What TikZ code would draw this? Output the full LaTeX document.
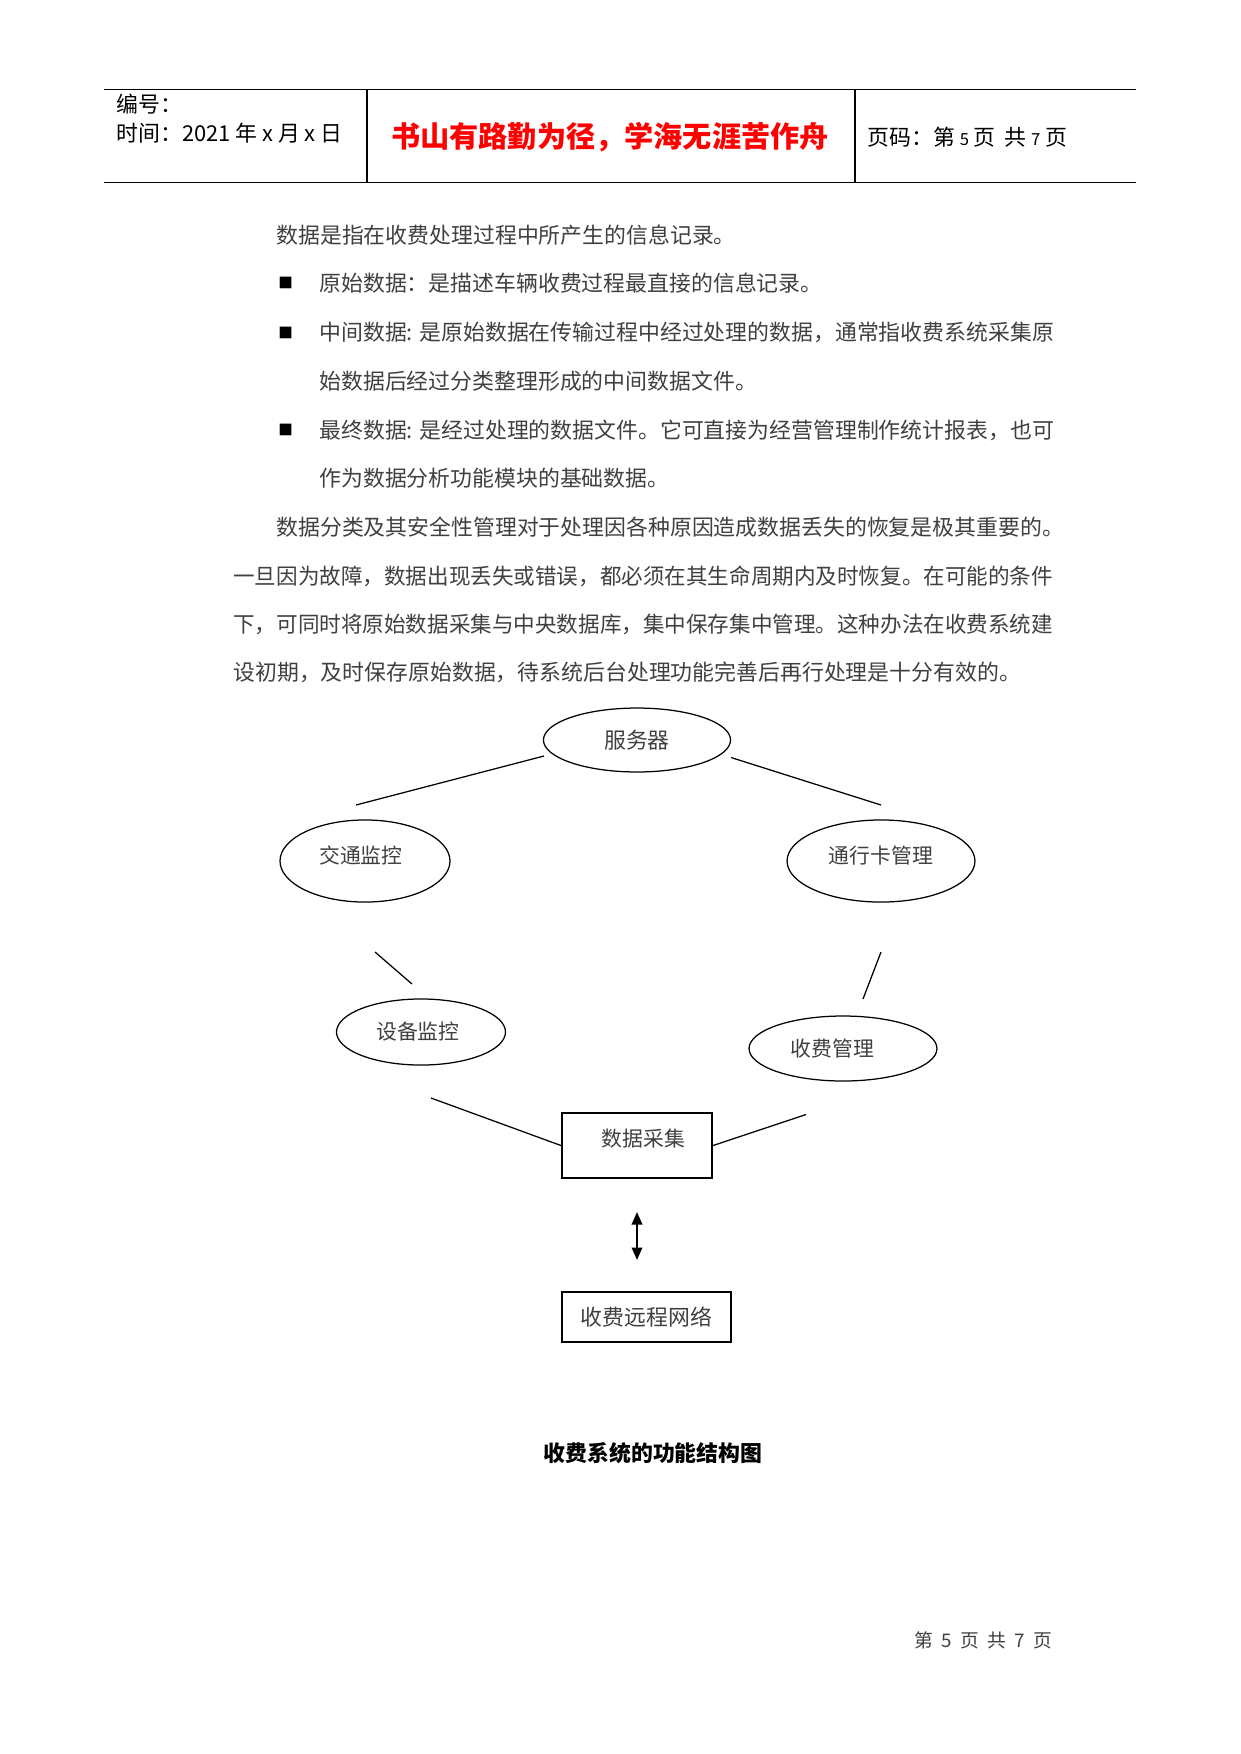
\documentclass[tikz,border=0pt]{standalone}
\usepackage{fontspec}
\setmainfont{Noto Sans CJK SC}
\usetikzlibrary{shapes.geometric,arrows.meta}
\begin{document}
\begin{tikzpicture}[x=0.48pt,y=-0.48pt,
  body/.style={inner sep=0pt,anchor=west,font=\fontsize{10.5}{12}\selectfont,text=black!75},
  head/.style={inner sep=0pt,anchor=west,font=\fontsize{10.5}{12}\selectfont,text=black},
  bul/.style={inner sep=0pt,anchor=west,font=\fontsize{7}{8}\selectfont,text=black},
  oval/.style={ellipse,draw,line width=0.6pt,inner sep=0pt,font=\fontsize{10.5}{12}\selectfont,text=black!75},
  box/.style={rectangle,draw,inner sep=0pt,font=\fontsize{10.5}{12}\selectfont,text=black!75},
  link/.style={line width=0.6pt},
  rule/.style={line width=0.6pt}]
\useasboundingbox[fill=white] (0,0) rectangle (1241,1754);

% header table
\coordinate (h1) at (104,89.5);
\coordinate (h2) at (1136,89.5);
\coordinate (h3) at (104,182.5);
\coordinate (h4) at (1136,182.5);
\coordinate (v1t) at (367,89.5);
\coordinate (v1b) at (367,182.5);
\coordinate (v2t) at (855,89.5);
\coordinate (v2b) at (855,182.5);
\draw[rule] (h1) -- (h2);
\draw[rule] (h3) -- (h4);
\draw[rule] (v1t) -- (v1b);
\draw[rule] (v2t) -- (v2b);
\node[head] (bh) at (116,104) {编号：};
\node[head] (sj) at (116,133) {时间：2021 年 x 月 x 日};
\node[inner sep=0pt,font=\fontsize{14}{16}\selectfont\bfseries,text=red] (motto) at (610,137) {书山有路勤为径，学海无涯苦作舟};
\node[head] (ym) at (867,137) {页码：第 {\fontsize{8}{9}\selectfont 5} 页\, 共 {\fontsize{8}{9}\selectfont 7} 页};

% body text
\node[body] (t1) at (276,235) {数据是指在收费处理过程中所产生的信息记录。};
\node[bul] (b1) at (278,283) {■};
\node[body] (t2) at (319,283) {原始数据：是描述车辆收费过程最直接的信息记录。};
\node[bul] (b2) at (278,332.5) {■};
\node[body] (t3) at (319,332.5) {中间数据: 是原始数据在传输过程中经过处理的数据，通常指收费系统采集原};
\node[body] (t4) at (319,381.5) {始数据后经过分类整理形成的中间数据文件。};
\node[bul] (b3) at (278,430) {■};
\node[body] (t5) at (319,430) {最终数据: 是经过处理的数据文件。它可直接为经营管理制作统计报表，也可};
\node[body] (t6) at (319,478) {作为数据分析功能模块的基础数据。};
\node[body] (t7) at (276,527) {数据分类及其安全性管理对于处理因各种原因造成数据丢失的恢复是极其重要的。};
\node[body] (t8) at (233,576) {\scalebox{0.986}[1]{一旦因为故障，数据出现丢失或错误，都必须在其生命周期内及时恢复。在可能的条件}};
\node[body] (t9) at (233,624) {\scalebox{0.986}[1]{下，可同时将原始数据采集与中央数据库，集中保存集中管理。这种办法在收费系统建}};
\node[body] (t10) at (233,672.5) {设初期，及时保存原始数据，待系统后台处理功能完善后再行处理是十分有效的。};

% diagram
\node[oval,minimum width=89.8pt,minimum height=30.7pt] (server) at (637,740) {服务器};
\node[oval,minimum width=81.6pt,minimum height=39.4pt,label={[shift={(-2pt,2.5pt)},text=black!75]center:交通监控}] (traffic) at (365,861) {};
\node[oval,minimum width=90.2pt,minimum height=39.4pt,label={[shift={(0pt,2.5pt)},text=black!75]center:通行卡管理}] (card) at (881,861) {};
\node[oval,minimum width=81.1pt,minimum height=31.7pt,label={[shift={(-1.5pt,0pt)},text=black!75]center:设备监控}] (equip) at (421,1032) {};
\node[oval,minimum width=90.2pt,minimum height=31.2pt,label={[shift={(-5pt,0pt)},text=black!75]center:收费管理}] (fee) at (843,1048.5) {};
\node[box,line width=1pt,minimum width=72pt,minimum height=31.2pt,label={[shift={(3pt,3.5pt)},text=black!75]center:数据采集}] (collect) at (637,1145.5) {};
\node[box,line width=0.6pt,minimum width=81.1pt,minimum height=24pt] (remote) at (646.5,1317) {收费远程网络};

\coordinate (s1a) at (544,756);
\coordinate (s1b) at (356,805);
\coordinate (s2a) at (731,757.5);
\coordinate (s2b) at (881,805);
\coordinate (s3a) at (375,952);
\coordinate (s3b) at (412,984);
\coordinate (s4a) at (881,952);
\coordinate (s4b) at (863,999);
\coordinate (s5a) at (431,1098);
\coordinate (s6a) at (806,1114.5);
\coordinate (arA) at (637,1212);
\coordinate (arB) at (637,1260);
\draw[link] (s1a) -- (s1b);
\draw[link] (s2a) -- (s2b);
\draw[link] (s3a) -- (s3b);
\draw[link] (s4a) -- (s4b);
\draw[link] (s5a) -- (collect.west);
\draw[link] (s6a) -- (collect.east);
\draw[line width=1pt,{Triangle[width=5pt,length=6pt]}-{Triangle[width=5pt,length=6pt]}] (arA) -- (arB);

% caption and footer
\node[inner sep=0pt,font=\fontsize{10.5}{12}\selectfont\bfseries] (cap) at (653,1453.5) {收费系统的功能结构图};
\node[inner sep=0pt,anchor=west,font=\fontsize{9}{10}\selectfont,text=black!75] (foot) at (914,1640) {第 \ 5 \ 页 \ 共 \ 7 \ 页};
\end{tikzpicture}
\end{document}
